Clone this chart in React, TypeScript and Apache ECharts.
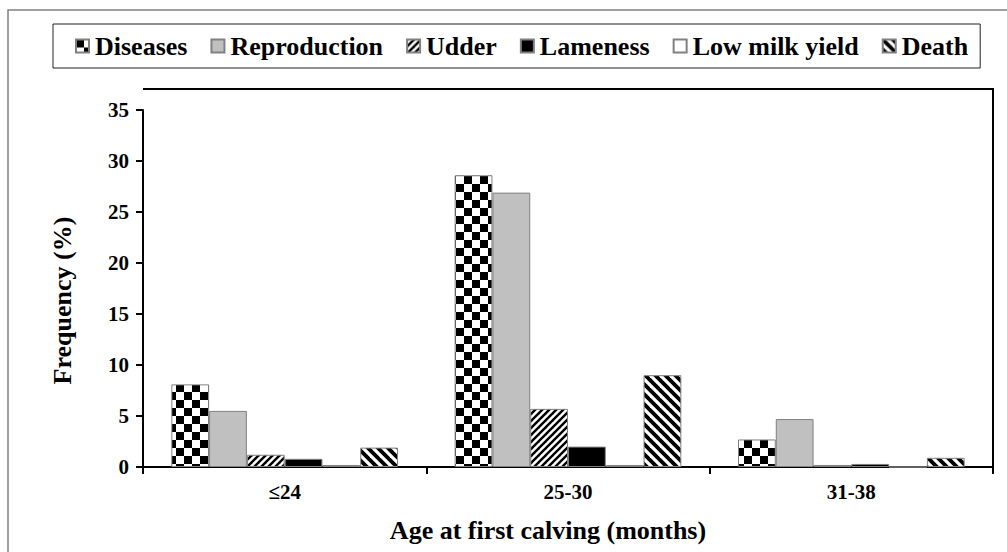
import React, { useEffect, useRef } from "react";
import * as echarts from "echarts";

const categories = ["≤24", "25-30", "31-38"];
const seriesNames = ["Diseases", "Reproduction", "Udder", "Lameness", "Low milk yield", "Death"];
const diseases = [8.1, 28.6, 2.7];
const reproduction = [5.5, 26.9, 4.7];
const udder = [1.2, 5.7, 0.2];
const lameness = [0.8, 2.0, 0.3];
const lowMilkYield = [0.2, 0.2, 0.0];
const death = [1.9, 9.0, 0.9];
const yTicks = { min: 0, max: 35, interval: 5 };

const FONT = "'Liberation Serif', 'Times New Roman', serif";

function makeChecker(sq: number) {
  const c = document.createElement("canvas");
  c.width = sq * 2;
  c.height = sq * 2;
  const ctx = c.getContext("2d")!;
  ctx.fillStyle = "#fff";
  ctx.fillRect(0, 0, sq * 2, sq * 2);
  ctx.fillStyle = "#000";
  ctx.fillRect(0, 0, sq, sq);
  ctx.fillRect(sq, sq, sq, sq);
  return c;
}

function makeStripes(size: number, lw: number, forward: boolean) {
  const c = document.createElement("canvas");
  c.width = size;
  c.height = size;
  const ctx = c.getContext("2d")!;
  ctx.fillStyle = "#fff";
  ctx.fillRect(0, 0, size, size);
  ctx.strokeStyle = "#000";
  ctx.lineWidth = lw;
  ctx.lineCap = "square";
  for (const off of [-size, 0, size]) {
    ctx.beginPath();
    if (forward) {
      ctx.moveTo(off - 1, size + 1);
      ctx.lineTo(off + size + 1, -1);
    } else {
      ctx.moveTo(off - 1, -1);
      ctx.lineTo(off + size + 1, size + 1);
    }
    ctx.stroke();
  }
  return c;
}

export default function App() {
  const ref = useRef<HTMLDivElement>(null);
  useEffect(() => {
    if (!ref.current) return;
    const chart = echarts.init(ref.current, undefined, { renderer: "svg" });
    const checker = makeChecker(8);
    const fwd = makeStripes(7, 2.4, true);
    const back = makeStripes(10, 3.8, false);

    const styles: any[] = [
      { color: { image: checker, repeat: "repeat" }, borderColor: "#808080", borderWidth: 1 },
      { color: "#c0c0c0", borderColor: "#808080", borderWidth: 1 },
      { color: { image: fwd, repeat: "repeat" }, borderColor: "#808080", borderWidth: 1 },
      { color: "#000000", borderColor: "#808080", borderWidth: 1 },
      { color: "#ffffff", borderColor: "#808080", borderWidth: 1 },
      { color: { image: back, repeat: "repeat" }, borderColor: "#808080", borderWidth: 1 },
    ];
    const dataArr = [diseases, reproduction, udder, lameness, lowMilkYield, death];

    chart.setOption({
      animation: false,
      backgroundColor: "#fff",
      textStyle: { fontFamily: FONT },
      graphic: {
        elements: [
          {
            type: "rect",
            shape: { x: 8, y: 10, width: 1100, height: 700 },
            style: { fill: "none", stroke: "#808080", lineWidth: 1.5 },
            silent: true,
          },
          {
            type: "rect",
            shape: { x: 143, y: 88, width: 851, height: 2 },
            style: { fill: "#000", stroke: "none" },
            silent: true,
            z: 20,
          },
          {
            type: "rect",
            shape: { x: 992, y: 88, width: 2, height: 386 },
            style: { fill: "#000", stroke: "none" },
            silent: true,
            z: 20,
          },
        ],
      },
      legend: {
        data: seriesNames,
        left: 53,
        top: 24,
        borderColor: "#222",
        borderWidth: 1,
        padding: [9, 12, 9, 22],
        itemWidth: 13,
        itemHeight: 13,
        itemGap: 23,
        icon: "rect",
        textStyle: { fontFamily: FONT, fontWeight: "bold", fontSize: 26, color: "#000", padding: [0, 0, 0, 1] },
      },
      grid: { left: 143, right: 14, top: 110, bottom: 85, containLabel: false },
      xAxis: {
        type: "category",
        data: categories,
        axisLine: { lineStyle: { color: "#000", width: 2 } },
        axisTick: { show: true, alignWithLabel: false, length: 7, lineStyle: { color: "#000", width: 2 } },
        axisLabel: { fontFamily: FONT, fontWeight: "bold", fontSize: 21, color: "#000", margin: 14 },
        name: "Age at first calving (months)",
        nameLocation: "middle",
        nameGap: 50,
        nameTextStyle: { fontFamily: FONT, fontWeight: "bold", fontSize: 26, color: "#000", padding: [0, 40, 0, 0] },
      },
      yAxis: {
        type: "value",
        min: yTicks.min,
        max: yTicks.max,
        interval: yTicks.interval,
        axisLine: { show: true, lineStyle: { color: "#000", width: 2 } },
        axisTick: { show: true, length: 7, lineStyle: { color: "#000", width: 2 } },
        splitLine: { show: false },
        axisLabel: { fontFamily: FONT, fontWeight: "bold", fontSize: 21, color: "#000", margin: 14 },
        name: "Frequency (%)",
        nameLocation: "middle",
        nameGap: 68,
        nameTextStyle: { fontFamily: FONT, fontWeight: "bold", fontSize: 26, color: "#000", padding: [0, 24, 0, 0] },
      },
      series: seriesNames.map((n, i) => ({
        name: n,
        type: "bar",
        data: dataArr[i],
        barGap: "0%",
        barCategoryGap: "20%",
        itemStyle: styles[i],
      })),
    });
    return () => chart.dispose();
  }, []);
  return (
    <div
      ref={ref}
      style={{ position: "fixed", left: 0, top: 0, width: 1007, height: 552, background: "#fff" }}
    />
  );
}
